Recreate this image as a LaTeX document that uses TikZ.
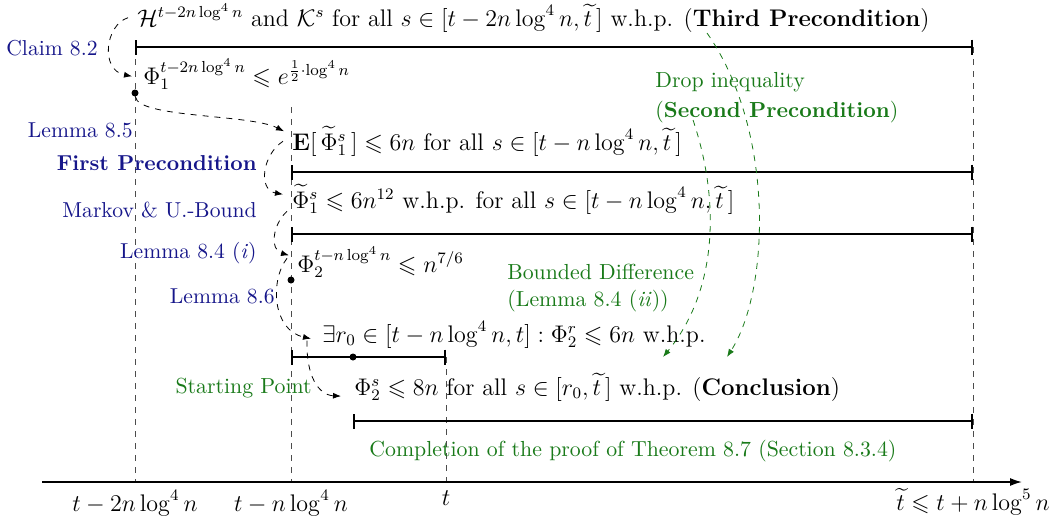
\documentclass[tikz,border=0pt]{standalone}
\usepackage{amsmath,amssymb}
\usetikzlibrary{arrows.meta}
\definecolor{lblue}{RGB}{22,22,138}
\definecolor{lgreen}{RGB}{25,122,25}
\begin{document}
\begin{tikzpicture}[x=0.5pt,y=-0.5pt,
  txt/.style={inner sep=0pt,anchor=base west,font=\fontsize{12}{14}\selectfont},
  bl/.style={inner sep=0pt,anchor=base east,text=lblue,font=\fontsize{10.8}{13}\selectfont},
  gl/.style={inner sep=0pt,anchor=base west,text=lgreen,font=\fontsize{10.9}{13}\selectfont},
  bar/.style={line width=1pt,{Bar[width=7.5pt]}-{Bar[width=7.5pt]}},
  vline/.style={dashed,black!70,line width=0.5pt},
  conn/.style={dashed,line width=0.4pt,-{Latex[length=4pt,width=3pt]}},
  gconn/.style={conn,draw=lgreen},
  dot/.style={circle,fill,inner sep=0pt,minimum size=3.5pt},
  axlab/.style={anchor=north,inner sep=0pt,font=\fontsize{11.8}{14}\selectfont}]
\useasboundingbox (0,0) rectangle (1053,520);

% vertical guide lines
\draw[vline] (135,47) -- (135,482);
\draw[vline] (291,107) -- (291,482);
\draw[vline] (446,357) -- (446,482);
\draw[vline] (973,47) -- (973,482);

% axis
\coordinate (ax0) at (42,482);
\coordinate (ax1) at (1022,482);
\draw[line width=0.8pt,-{Latex[length=6pt,width=4pt]}] (ax0) -- (ax1);
\node[axlab] (l1) at (135,490) {$t-2n\log^4 n$};
\node[axlab] (l2) at (291,490) {$t-n\log^4 n$};
\node[axlab] (l3) at (446,490) {$t$};
\node[axlab] (l4) at (973,488) {$\widetilde{t}\leqslant t+n\log^5 n$};

% interval bars
\draw[bar] (135,47) -- (973,47);
\draw[bar] (291,172) -- (973,172);
\draw[bar] (291,234) -- (973,234);
\draw[bar] (291,357) -- (446,357);
\draw[bar] (353,421) -- (973,421);

% dots
\node[dot] (d1) at (135,93) {};
\node[dot] (d2) at (291,280) {};
\node[dot] (d3) at (353,357) {};

% statements
\node[txt] (h) at (137,26) {$\mathcal{H}^{t-2n\log^4 n}$ and $\mathcal{K}^s$ for all $s\in[t-2n\log^4 n,\widetilde{t}\,]$ w.h.p. (\textbf{Third Precondition})};
\node[txt] (p1) at (143,84) {$\Phi_1^{t-2n\log^4 n}\leqslant e^{\frac{1}{2}\cdot\log^4 n}$};
\node[txt] (e) at (292,150) {$\mathbf{E}[\,\widetilde{\Phi}_1^s\,]\leqslant 6n$ for all $s\in[t-n\log^4 n,\widetilde{t}\,]$};
\node[txt] (pt) at (292,208) {$\widetilde{\Phi}_1^s\leqslant 6n^{12}$ w.h.p. for all $s\in[t-n\log^4 n,\widetilde{t}\,]$};
\node[txt] (p2) at (297,272) {$\Phi_2^{t-n\log^4 n}\leqslant n^{7/6}$};
\node[txt] (ex) at (322,342) {$\exists r_0\in[t-n\log^4 n,t]:\Phi_2^r\leqslant 6n$ w.h.p.};
\node[txt] (con) at (354,395) {$\Phi_2^s\leqslant 8n$ for all $s\in[r_0,\widetilde{t}\,]$ w.h.p. (\textbf{Conclusion})};

% blue labels
\node[bl] (b1) at (98,55) {Claim 8.2};
\node[bl] (b2) at (133,137) {Lemma 8.5};
\node[bl] (b3) at (257,170) {\textbf{First Precondition}};
\node[bl] (b4) at (257,217) {Markov \& U.-Bound};
\node[bl] (b5) at (257,258) {Lemma 8.4 (\textit{i})};
\node[bl] (b6) at (275,303) {Lemma 8.6};

% green labels
\node[gl] (g1) at (655,87) {Drop inequality};
\node[gl] (g2) at (655,117) {(\textbf{Second Precondition})};
\node[gl] (g3) at (507,279) {Bounded Difference};
\node[gl] (g4) at (507,306) {(Lemma 8.4 (\textit{ii}))};
\node[gl,anchor=base east] (g5) at (312,393) {Starting Point};
\node[gl] (g6) at (369,456) {Completion of the proof of Theorem 8.7 (Section 8.3.4)};

% black connectors
\draw[conn] ([xshift=-4.5pt]h.west) .. controls (105,25) and (100,70) .. ([xshift=-5.5pt,yshift=-1pt]p1.west);
\draw[conn] (d1) .. controls (138,118) and (250,114) .. ([xshift=-4pt,yshift=5pt]e.west);
\draw[conn] ([xshift=-4.5pt]e.west) .. controls (262,155) and (258,190) .. ([xshift=-4.5pt,yshift=2.5pt]pt.west);
\draw[conn] ([xshift=-2.5pt,yshift=-6pt]pt.west) .. controls (272,225) and (270,250) .. ([xshift=-4pt,yshift=3.5pt]p2.west);
\draw[conn] ([xshift=-5pt,yshift=2pt]p2.west) .. controls (270,280) and (272,330) .. ([xshift=-5.5pt,yshift=-2pt]ex.west);
\draw[conn] ([xshift=-7.5pt,yshift=-3pt]ex.west) .. controls (306,375) and (318,395) .. ([xshift=-6.5pt,yshift=-4.5pt]con.west);

% green connectors
\coordinate (ga) at (707,33);
\coordinate (gae) at (727,357);
\coordinate (gb) at (693,120);
\coordinate (gbe) at (663,357);
\draw[gconn] (ga) .. controls (775,130) and (770,290) .. (gae);
\draw[gconn] (gb) .. controls (720,200) and (718,290) .. (gbe);
\end{tikzpicture}
\end{document}
